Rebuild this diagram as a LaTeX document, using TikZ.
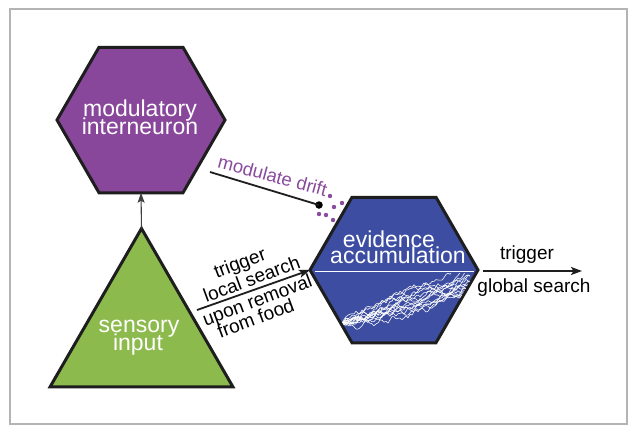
\documentclass[tikz,border=0pt]{standalone}
\usepackage{fontspec}
\setmainfont{Liberation Sans}
\usetikzlibrary{shapes.geometric,arrows.meta}
\definecolor{modpurple}{HTML}{88479B}
\definecolor{evblue}{HTML}{3D4EA2}
\definecolor{sensgreen}{HTML}{8DBA4C}
\definecolor{framegray}{HTML}{B4B4B4}
\definecolor{outline}{HTML}{1E1E1E}
\definecolor{driftpurple}{HTML}{8A4A9E}
\begin{document}
\begin{tikzpicture}[x=1pt,y=-1pt,
  hexa/.style={regular polygon, regular polygon sides=6, minimum size=168pt, inner sep=0pt, outer sep=0pt, draw=outline, line width=3pt},
  tri/.style={regular polygon, regular polygon sides=3, minimum size=211pt, inner sep=0pt, outer sep=0pt, draw=outline, line width=3pt},
  big/.style={font=\fontsize{23}{23}\selectfont, text=white, inner sep=0pt, anchor=base},
  lab/.style={font=\fontsize{19}{19}\selectfont, text=black, inner sep=0pt, anchor=base},
  conn/.style={draw=outline, line width=1.8pt, -{Stealth[length=11pt,width=8pt,inset=2.5pt]}},
  thinconn/.style={draw=outline!85, line width=1.1pt, -{Stealth[length=10pt,width=7pt,inset=2pt]}},
  walk/.style={white, line width=0.55pt, line join=round},
]
\useasboundingbox (0,0) rectangle (640,432);
\fill[white] (0,0) rectangle (640,432);
\draw[framegray, line width=1.6pt] (10,9) rectangle (627,424);

% shapes
\node[hexa, fill=modpurple] (mod) at (141,120) {};
\node[hexa, fill=evblue] (ev) at (394,270) {};
\node[tri, fill=sensgreen] (sens) at (141.5,334) {};

% random walks in the lower half of the evidence hexagon
\begin{scope}
  \clip (313,273) -- (475,273) -- (435,340) -- (353,340) -- cycle;
  \pgfmathsetseed{7}
  \foreach \k in {1,...,14}{
    \draw[walk] (342,323) \foreach \i in {1,...,64}{ -- ++(2,{-0.74+3.0*rand}) };
  }
\end{scope}
\draw[white, line width=1pt] (315,271) -- (474,271);

% labels inside shapes
\node[big] (modt1) at (140,116) {modulatory};
\node[big] (modt2) at (140,134) {interneuron};
\node[big] (evt1) at (389,247) {evidence};
\node[big] (evt2) at (398,263) {accumulation};
\node[big] (sent1) at (139,332) {sensory};
\node[big] (sent2) at (138,350) {input};

% connector sensory -> modulatory
\draw[thinconn] (sens.north) -- (mod.south);

% trigger local search
\coordinate (lsstart) at (197,310);
\draw[conn] (lsstart) -- (ev.west);
\node[lab, rotate=20.4] (ls1) at (242,269) {trigger};
\node[lab, rotate=20.4] (ls2) at (254,285) {local search};
\node[lab, rotate=20.4] (ls3) at (259.5,306) {upon removal};
\node[lab, rotate=20.4] (ls4) at (258,324.5) {from food};

% modulate drift
\coordinate (mdstart) at (210,172);
\node[circle, fill=black, inner sep=0pt, minimum size=7.5pt] (mddot) at (319,205) {};
\draw[outline, line width=1.8pt] (mdstart) -- (mddot.center);
\node[lab, text=driftpurple, rotate=-15, font=\fontsize{18.5}{18.5}\selectfont] (mdt) at (271,182) {modulate drift};
\foreach \p in {(330,196),(342,203),(334,207),(319,214),(326,215),(333,220)}{
  \fill[driftpurple] \p circle (2.2pt);
}

% trigger global search
\coordinate (gsstart) at (483,271);
\coordinate (gsend) at (582,271);
\draw[conn] (gsstart) -- (gsend);
\node[lab] (gs1) at (527,259.5) {trigger};
\node[lab] (gs2) at (534,292) {global search};
\end{tikzpicture}
\end{document}
